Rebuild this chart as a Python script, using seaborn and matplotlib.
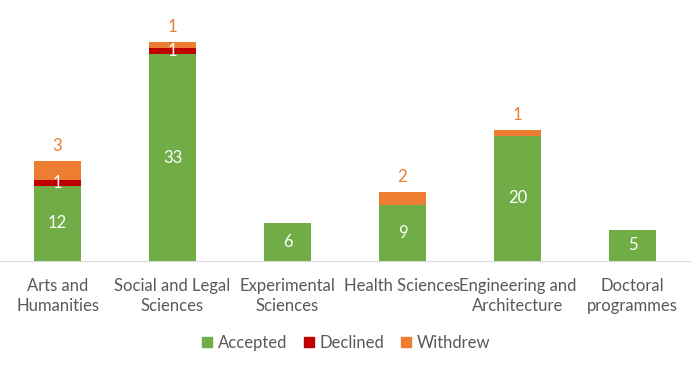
import numpy as np
import pandas as pd
import matplotlib.pyplot as plt
import seaborn as sns

categories = ["Arts and\nHumanities", "Social and Legal\nSciences", "Experimental\nSciences",
              "Health Sciences", "Engineering and\nArchitecture", "Doctoral\nprogrammes"]
accepted = [12, 33, 6, 9, 20, 5]
declined = [1, 1, 0, 0, 0, 0]
withdrew = [3, 1, 0, 2, 1, 0]

GREEN = "#70AD47"
RED = "#C00000"
ORANGE = "#ED7D31"
TEXT = "#595959"

sns.set_style("white")
plt.rcParams["font.family"] = ["Lato", "DejaVu Sans"]

df = pd.DataFrame({"category": categories, "Accepted": accepted,
                   "Declined": declined, "Withdrew": withdrew})
df["acc_dec"] = df["Accepted"] + df["Declined"]
df["total"] = df["acc_dec"] + df["Withdrew"]

fig = plt.figure(figsize=(7, 3.65), dpi=100)
ax = fig.add_axes([0.0, 0.285, 690 / 700, 0.66])

# stacked bars drawn as layered cumulative totals
for col, c in [("total", ORANGE), ("acc_dec", RED), ("Accepted", GREEN)]:
    sns.barplot(data=df, x="category", y=col, color=c, width=0.405, saturation=1,
                linewidth=0, edgecolor="none", ax=ax)

for i, row in df.iterrows():
    ax.text(i, row["Accepted"] / 2, str(row["Accepted"]), ha="center", va="center",
            color="white", fontsize=12)
    if row["Declined"]:
        ax.text(i, row["Accepted"] + row["Declined"] / 2, str(row["Declined"]),
                ha="center", va="center", color="white", fontsize=12)
    if row["Withdrew"]:
        ax.text(i, row["total"] + 2.4, str(row["Withdrew"]), ha="center", va="center",
                color=ORANGE, fontsize=12)

ax.set_ylim(0, 38.5)
ax.set_xlim(-0.5, 5.5)
ax.set_xlabel("")
ax.set_ylabel("")
ax.set_yticks([])
for s in ["top", "right", "left"]:
    ax.spines[s].set_visible(False)
ax.spines["bottom"].set_color("#D9D9D9")
ax.tick_params(axis="x", length=0, pad=12, labelsize=12, labelcolor=TEXT)
for lbl in ax.get_xticklabels():
    lbl.set_verticalalignment("top")
    lbl.set_linespacing(1.35)

handles = [plt.Rectangle((0, 0), 1, 1, color=c) for c in (GREEN, RED, ORANGE)]
fig.legend(handles, ["Accepted", "Declined", "Withdrew"], loc="center",
           bbox_to_anchor=(0.495, 1 - 343 / 365), ncol=3, frameon=False,
           fontsize=12, labelcolor=TEXT, handlelength=0.6, handleheight=0.6,
           handletextpad=0.35, columnspacing=1.0)

fig.savefig("out.png", dpi=100)
